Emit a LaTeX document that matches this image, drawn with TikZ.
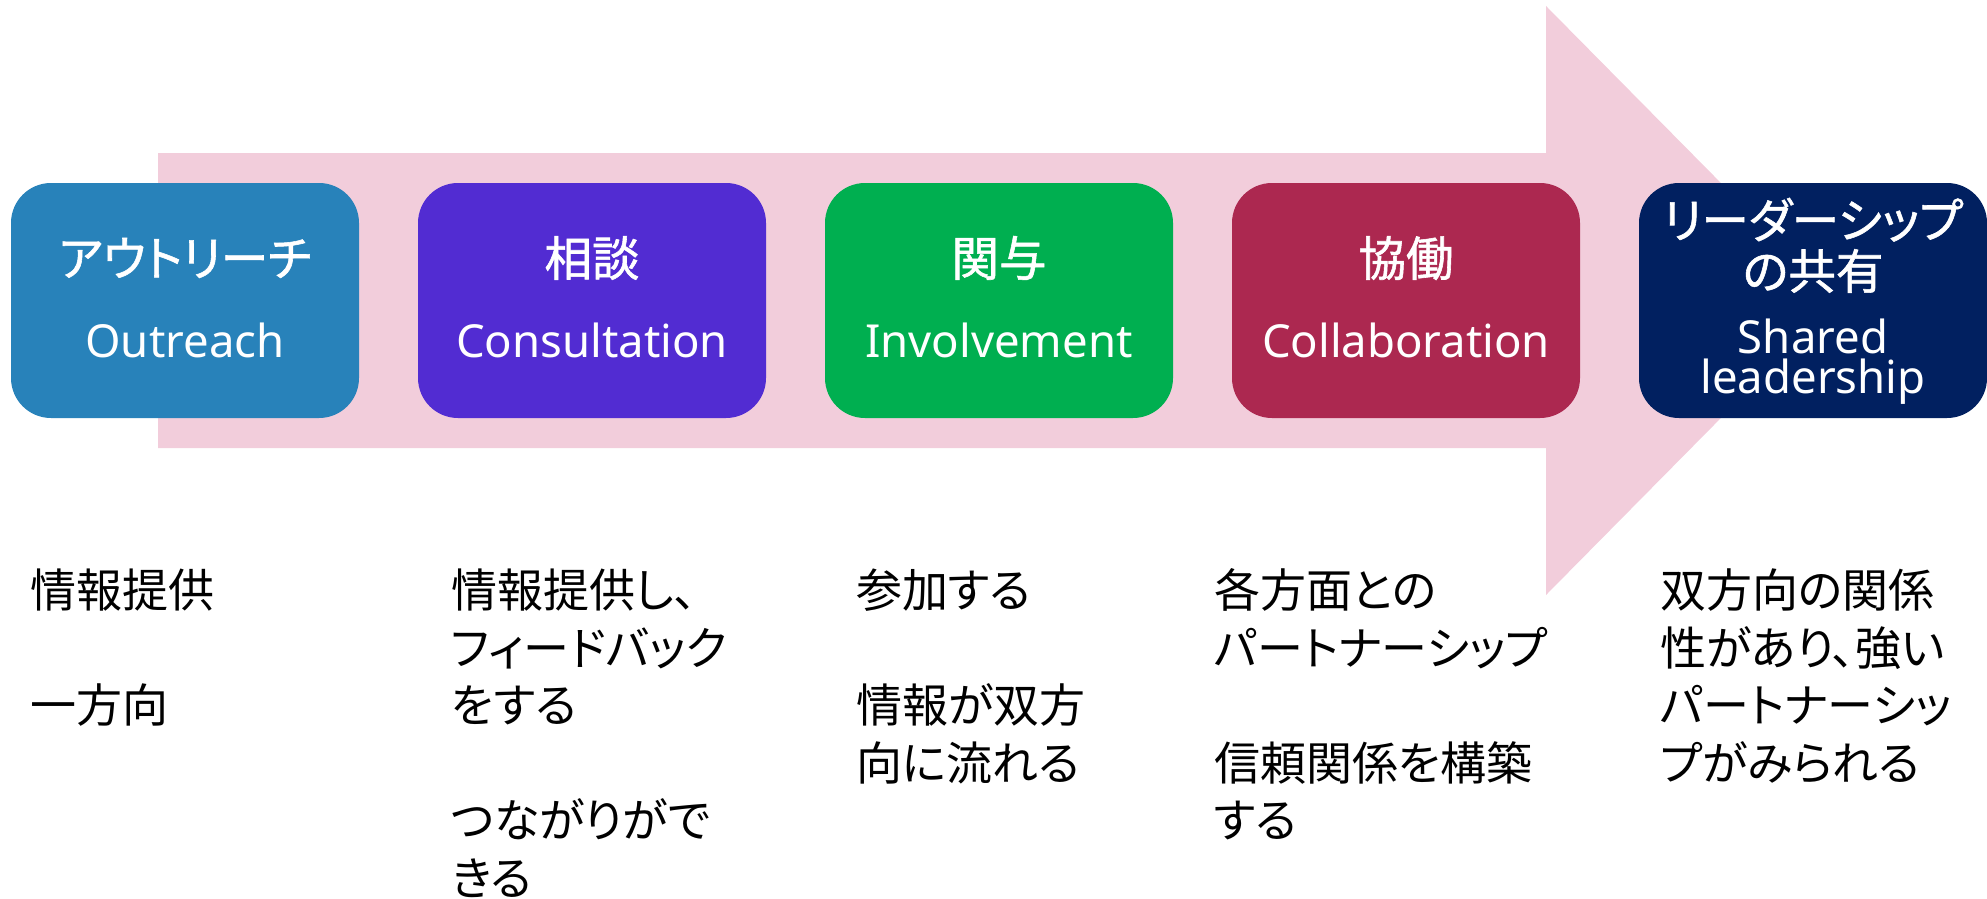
\documentclass[tikz,border=0pt]{standalone}
\usepackage{fontspec}
\setmainfont{Noto Sans CJK JP}[RawFeature=+palt]
\newfontfamily\jpt{Noto Sans CJK JP}[RawFeature=+palt, FakeBold=1.2]
\newfontfamily\latf{Noto Sans}
\definecolor{cpink}{HTML}{F2CDDB}
\definecolor{cone}{HTML}{2882BA}
\definecolor{ctwo}{HTML}{522CD2}
\definecolor{cthree}{HTML}{00AF50}
\definecolor{cfour}{HTML}{AC2850}
\definecolor{cfive}{HTML}{012060}
\newcommand\twol[2]{\vtop{\hbox{#1}\hbox{#2}}}
\newcommand\threel[3]{\vtop{\hbox{#1}\hbox{#2}\hbox{#3}}}
\newcommand\fourl[4]{\vtop{\hbox{#1}\hbox{#2}\hbox{#3}\hbox{#4}}}
\tikzset{
  stage/.style={rounded corners=40pt, minimum width=348pt, minimum height=235pt, inner sep=0pt, draw=none},
  jt/.style={text=white, font=\jpt\fontsize{47.5}{50}\selectfont, anchor=base, inner sep=0pt},
  et/.style={text=white, font=\latf\fontsize{45.5}{39}\selectfont, anchor=base, inner sep=0pt},
  desc/.style={font=\fontsize{46}{57.5}\selectfont, anchor=base west, inner sep=0pt},
}
\begin{document}
\begin{tikzpicture}[x=1pt,y=-1pt]
\useasboundingbox (0,0) rectangle (1987,899);
% big arrow
\fill[cpink] (158,153) -- (1546,153) -- (1546,6) -- (1837,300.5) -- (1546,595) -- (1546,448) -- (158,448) -- cycle;
% stage boxes
\node[stage, fill=cone]   (s1) at (185,300.5) {};
\node[stage, fill=ctwo]   (s2) at (592,300.5) {};
\node[stage, fill=cthree] (s3) at (999,300.5) {};
\node[stage, fill=cfour]  (s4) at (1406,300.5) {};
\node[stage, fill=cfive]  (s5) at (1813,300.5) {};
% titles
\node[jt] (j1) at (185,276) {アウトリーチ};
\node[et] (e1) at (185,357) {Outreach};
\node[jt] (j2) at (592,276) {相談};
\node[et] (e2) at (592,357) {Consultation};
\node[jt] (j3) at (999,276) {関与};
\node[et] (e3) at (999,357) {Involvement};
\node[jt] (j4) at (1406,276) {協働};
\node[et] (e4) at (1406,357) {Collaboration};
\node[jt] (j5a) at (1813,238) {リーダーシップ};
\node[jt] (j5b) at (1813,289) {の共有};
\node[et] (e5a) at (1813,353) {Shared};
\node[et] (e5b) at (1813,393) {leadership};
% descriptions
\node[desc] (d1a) at (30,607.5) {情報提供};
\node[desc] (d1b) at (30,722.5) {一方向};
\node[desc] (d2a) at (451,607.5) {\threel{情報提供し、}{フィードバック}{をする}};
\node[desc] (d2b) at (451,837.5) {\twol{つながりがで}{きる}};
\node[desc] (d3a) at (856,607.5) {参加する};
\node[desc] (d3b) at (856,722.5) {\twol{情報が双方}{向に流れる}};
\node[desc] (d4a) at (1214,607.5) {\twol{各方面との}{パートナーシップ}};
\node[desc] (d4b) at (1214,780) {\twol{信頼関係を構築}{する}};
\node[desc] (d5) at (1660,607.5) {\fourl{双方向の関係}{性があり、強い}{パートナーシッ}{プがみられる}};
\end{tikzpicture}
\end{document}
